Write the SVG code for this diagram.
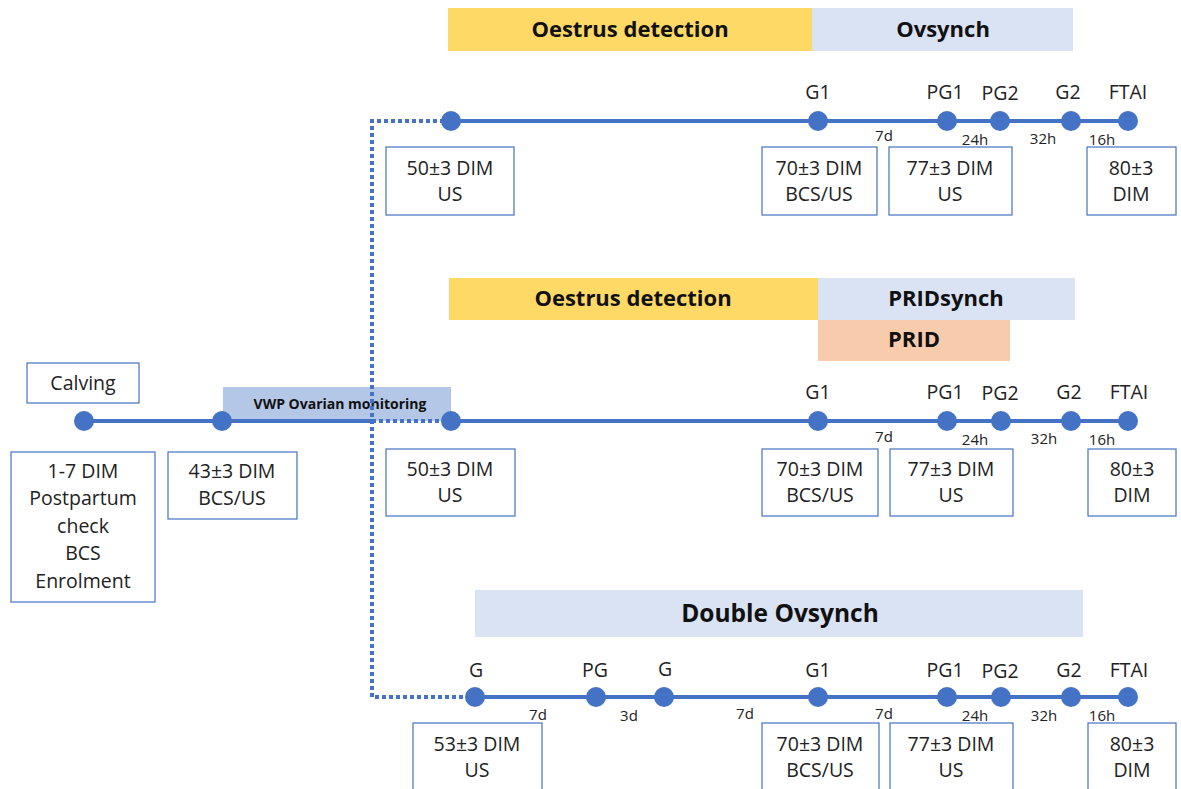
<svg xmlns="http://www.w3.org/2000/svg" width="1181" height="789" viewBox="0 0 1181 789">
<style>
.bar{stroke:none}
.hd{font-family:"Open Sans","Liberation Sans",sans-serif;font-weight:bold;font-size:22px;fill:#111;text-anchor:middle}
.bx{fill:#fff;stroke:#4472C4;stroke-width:1.2}
.t{font-family:"Open Sans","Liberation Sans",sans-serif;font-size:19.5px;fill:#222;text-anchor:middle}
.s{font-family:"Open Sans","Liberation Sans",sans-serif;font-size:15px;fill:#222;text-anchor:middle}
.ln{stroke:#4472C4;stroke-width:4;fill:none}
.dt{stroke:#4472C4;stroke-width:4;fill:none;stroke-dasharray:4 3}
.dot{fill:#4472C4}
</style>
<rect width="1181" height="789" fill="#fff"/>
<g id="bars">
<rect class="bar" x="448" y="8" width="364" height="43" fill="#FFD966"/>
<text class="hd" x="630" y="37">Oestrus detection</text>
<rect class="bar" x="812" y="8" width="261" height="43" fill="#DAE3F3"/>
<text class="hd" x="943" y="37">Ovsynch</text>
<rect class="bar" x="449" y="278" width="369" height="42" fill="#FFD966"/>
<text class="hd" x="633" y="306">Oestrus detection</text>
<rect class="bar" x="818" y="278" width="257" height="42" fill="#DAE3F3"/>
<text class="hd" x="946" y="306">PRIDsynch</text>
<rect class="bar" x="818" y="320" width="192" height="41" fill="#F8CBAD"/>
<text class="hd" x="914" y="347">PRID</text>
<rect class="bar" x="475" y="590" width="608" height="47" fill="#DAE3F3"/>
<text class="hd" x="780" y="622" style="font-size:24.5px">Double Ovsynch</text>
<rect class="bar" x="223" y="387" width="228" height="34" fill="#B4C7E7"/>
<text class="hd" x="340" y="409" style="font-size:14px">VWP Ovarian monitoring</text>
</g>
<g id="connectors">
<line class="ln" x1="84" y1="421" x2="372" y2="421"/>
<path class="dt" d="M451 121 H372 V697 H475"/>
<line class="dt" x1="372" y1="421" x2="451" y2="421"/>
<line class="ln" x1="451" y1="121" x2="1128" y2="121"/>
<line class="ln" x1="451" y1="421" x2="1128" y2="421"/>
<line class="ln" x1="475" y1="697" x2="1128" y2="697"/>
</g>
<g id="dots">
<circle class="dot" cx="84" cy="421" r="10"/>
<circle class="dot" cx="222" cy="421" r="10"/>
<circle class="dot" cx="451" cy="121" r="10"/>
<circle class="dot" cx="818" cy="121" r="10"/>
<circle class="dot" cx="947" cy="121" r="10"/>
<circle class="dot" cx="1000" cy="121" r="10"/>
<circle class="dot" cx="1071" cy="121" r="10"/>
<circle class="dot" cx="1128" cy="121" r="10"/>
<circle class="dot" cx="451" cy="421" r="10"/>
<circle class="dot" cx="818" cy="421" r="10"/>
<circle class="dot" cx="947" cy="421" r="10"/>
<circle class="dot" cx="1001" cy="421" r="10"/>
<circle class="dot" cx="1071" cy="421" r="10"/>
<circle class="dot" cx="1128" cy="421" r="10"/>
<circle class="dot" cx="475" cy="697" r="10"/>
<circle class="dot" cx="596" cy="697" r="10"/>
<circle class="dot" cx="664" cy="697" r="10"/>
<circle class="dot" cx="818" cy="697" r="10"/>
<circle class="dot" cx="947" cy="697" r="10"/>
<circle class="dot" cx="1001" cy="697" r="10"/>
<circle class="dot" cx="1071" cy="697" r="10"/>
<circle class="dot" cx="1128" cy="697" r="10"/>
</g>
<g id="labels">
<text class="t" x="818" y="99">G1</text>
<text class="t" x="945" y="99">PG1</text>
<text class="t" x="1000" y="100">PG2</text>
<text class="t" x="1068" y="99">G2</text>
<text class="t" x="1128" y="99">FTAI</text>
<text class="s" x="884" y="141">7d</text>
<text class="s" x="975" y="145">24h</text>
<text class="s" x="1043" y="144">32h</text>
<text class="s" x="1102" y="145">16h</text>
<text class="t" x="818" y="399">G1</text>
<text class="t" x="945" y="399">PG1</text>
<text class="t" x="1000" y="400">PG2</text>
<text class="t" x="1069" y="399">G2</text>
<text class="t" x="1129" y="399">FTAI</text>
<text class="s" x="884" y="442">7d</text>
<text class="s" x="975" y="445">24h</text>
<text class="s" x="1044" y="444">32h</text>
<text class="s" x="1102" y="445">16h</text>
<text class="t" x="476" y="677">G</text>
<text class="t" x="595" y="677">PG</text>
<text class="t" x="665" y="676">G</text>
<text class="s" x="538" y="720">7d</text>
<text class="s" x="629" y="721">3d</text>
<text class="s" x="745" y="719">7d</text>
<text class="t" x="818" y="677">G1</text>
<text class="t" x="945" y="677">PG1</text>
<text class="t" x="1000" y="678">PG2</text>
<text class="t" x="1069" y="677">G2</text>
<text class="t" x="1129" y="677">FTAI</text>
<text class="s" x="884" y="719">7d</text>
<text class="s" x="975" y="721">24h</text>
<text class="s" x="1044" y="721">32h</text>
<text class="s" x="1102" y="721">16h</text>
</g>
<g id="calving"><rect class="bx" x="27" y="363" width="112" height="40"/><text class="t" x="83" y="390">Calving</text></g>
<g id="enrol"><rect class="bx" x="11" y="452" width="144" height="150"/>
<text class="t" x="83" y="478">1-7 DIM</text><text class="t" x="83" y="505">Postpartum</text><text class="t" x="83" y="533">check</text><text class="t" x="83" y="560">BCS</text><text class="t" x="83" y="588">Enrolment</text></g>
<g id="d43"><rect class="bx" x="168" y="452" width="129" height="67"/><text class="t" x="232" y="478">43±3 DIM</text><text class="t" x="232" y="505">BCS/US</text></g>
<g id="r1a"><rect class="bx" x="386" y="147" width="128" height="68"/><text class="t" x="450" y="175">50±3 DIM</text><text class="t" x="450" y="201">US</text></g>
<g id="r1b"><rect class="bx" x="762" y="147" width="115" height="68"/><text class="t" x="819" y="175">70±3 DIM</text><text class="t" x="819" y="201">BCS/US</text></g>
<g id="r1c"><rect class="bx" x="889" y="147" width="123" height="68"/><text class="t" x="950" y="175">77±3 DIM</text><text class="t" x="950" y="201">US</text></g>
<g id="r1d"><rect class="bx" x="1087" y="147" width="89" height="68"/><text class="t" x="1131" y="175">80±3</text><text class="t" x="1131" y="201">DIM</text></g>
<g id="r2a"><rect class="bx" x="386" y="449" width="129" height="67"/><text class="t" x="450" y="476">50±3 DIM</text><text class="t" x="450" y="502">US</text></g>
<g id="r2b"><rect class="bx" x="762" y="449" width="116" height="67"/><text class="t" x="820" y="476">70±3 DIM</text><text class="t" x="820" y="502">BCS/US</text></g>
<g id="r2c"><rect class="bx" x="890" y="449" width="123" height="67"/><text class="t" x="951" y="476">77±3 DIM</text><text class="t" x="951" y="502">US</text></g>
<g id="r2d"><rect class="bx" x="1088" y="449" width="88" height="67"/><text class="t" x="1132" y="476">80±3</text><text class="t" x="1132" y="502">DIM</text></g>
<g id="r3a"><rect class="bx" x="413" y="723" width="129" height="70"/><text class="t" x="477" y="751">53±3 DIM</text><text class="t" x="477" y="777">US</text></g>
<g id="r3b"><rect class="bx" x="762" y="723" width="117" height="70"/><text class="t" x="820" y="751">70±3 DIM</text><text class="t" x="820" y="777">BCS/US</text></g>
<g id="r3c"><rect class="bx" x="890" y="723" width="123" height="70"/><text class="t" x="951" y="751">77±3 DIM</text><text class="t" x="951" y="777">US</text></g>
<g id="r3d"><rect class="bx" x="1088" y="723" width="88" height="70"/><text class="t" x="1132" y="751">80±3</text><text class="t" x="1132" y="777">DIM</text></g>
</svg>
